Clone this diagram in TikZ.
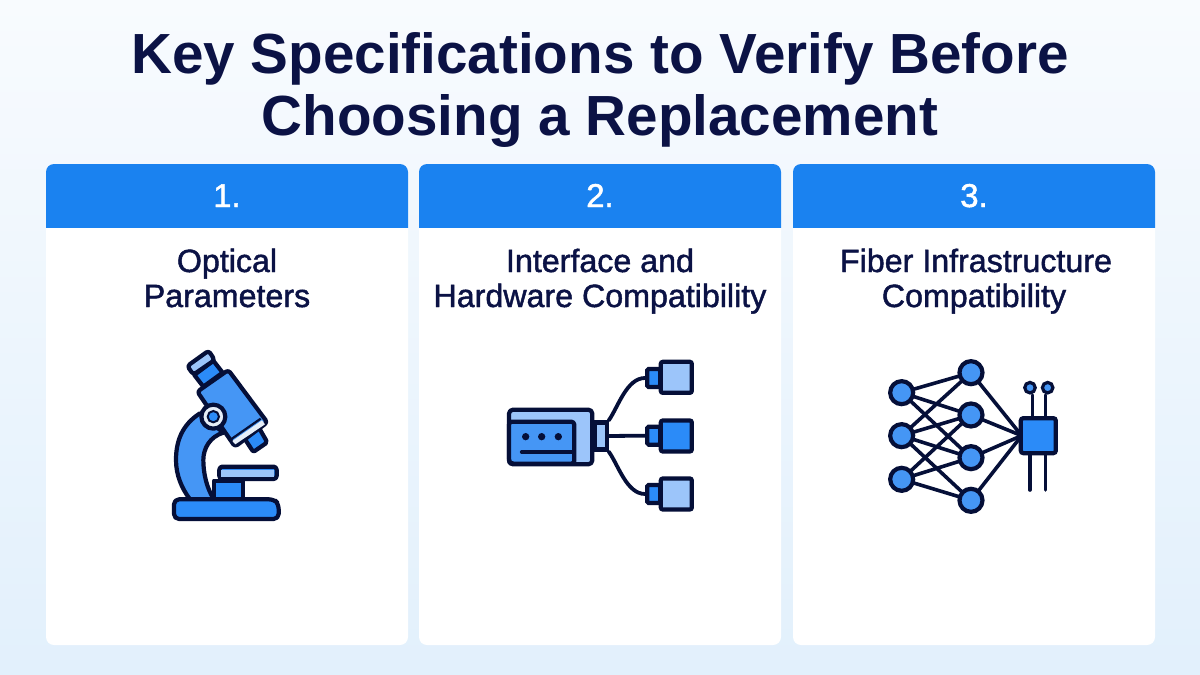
\documentclass[tikz,border=0pt]{standalone}
\usepackage{fontspec}
\setmainfont{Liberation Sans}
\newfontfamily\medfont[FakeBold=1.4]{Liberation Sans}
\definecolor{ink}{HTML}{0B1245}
\definecolor{iconink}{HTML}{050F38}
\definecolor{headblue}{HTML}{1A82F0}
\definecolor{mainblue}{HTML}{4596F5}
\definecolor{deepblue}{HTML}{2B8BF8}
\definecolor{lightblue}{HTML}{9CC5FA}
\definecolor{paleband}{HTML}{E6EEF8}
\definecolor{bgtop}{HTML}{F8FBFE}
\definecolor{bgbot}{HTML}{E2F0FC}
\tikzset{
 titletext/.style={anchor=base,text=ink,inner sep=0pt,font=\fontsize{56.6}{60}\selectfont\bfseries},
 cardtext/.style={anchor=base,text=ink,inner sep=0pt,font=\fontsize{32.2}{36}\selectfont\medfont},
 numtext/.style={anchor=base,text=white,inner sep=0pt,font=\fontsize{33}{36}\selectfont\medfont},
 cardbody/.style={fill=white,rounded corners=8pt},
 cardhead/.style={fill=headblue},
 iconline/.style={draw=iconink,line width=4.2pt,line join=round,line cap=round},
 thinline/.style={draw=iconink,line width=3.6pt,line join=round,line cap=round},
 netnode/.style={circle,draw=iconink,line width=4.2pt,fill=mainblue,minimum size=23pt,inner sep=0pt},
 pinnode/.style={circle,draw=iconink,line width=3.2pt,fill=mainblue,minimum size=10.5pt,inner sep=0pt},
 chipnode/.style={draw=iconink,line width=4.2pt,fill=deepblue,rounded corners=2.5pt,minimum size=35pt,inner sep=0pt},
 bigplug/.style={draw=iconink,line width=4.2pt,rounded corners=2pt,minimum width=31pt,minimum height=31pt,inner sep=0pt},
 smallplug/.style={draw=iconink,line width=4.2pt,fill=deepblue,rounded corners=1.5pt,minimum width=13pt,minimum height=18pt,inner sep=0pt},
 portnode/.style={draw=iconink,line width=4.2pt,fill=lightblue,minimum width=12pt,minimum height=27pt,inner sep=0pt},
 cable/.style={draw=iconink,line width=3.8pt,line cap=round},
}
\newcommand{\cardat}[1]{%
 \fill[cardbody] (#1,164) rectangle (#1+362,645);
 \begin{scope}
  \clip (#1,164) rectangle (#1+362,227);
  \fill[cardhead,rounded corners=8pt] (#1,164) rectangle (#1+362,260);
 \end{scope}
}
\begin{document}
\begin{tikzpicture}[x=1pt,y=-1pt]
\useasboundingbox (0,0) rectangle (1200,675);
\shade[top color=bgtop,bottom color=bgbot] (0,0) rectangle (1200,675);
\cardat{46}\cardat{419}\cardat{793}
\node[titletext] (t1) at (600,73) {Key Specifications to Verify Before};
\node[titletext] (t2) at (600,135) {Choosing a Replacement};
\node[numtext] (n1) at (227,207) {1.};
\node[numtext] (n2) at (600,207) {2.};
\node[numtext] (n3) at (974,207) {3.};
\node[cardtext] (c1a) at (227,272) {Optical};
\node[cardtext] (c1b) at (227,307) {Parameters};
\node[cardtext] (c2a) at (600,272) {Interface and};
\node[cardtext] (c2b) at (600,307) {Hardware Compatibility};
\node[cardtext] (c3a) at (976,272) {Fiber Infrastructure};
\node[cardtext] (c3b) at (974,307) {Compatibility};
% microscope
\begin{scope}[shift={(150,330)},x=0.3333pt,y=-0.3333pt]
 \draw[iconline,fill=mainblue] (150,250) .. controls (95,285) and (78,335) .. (78,390) .. controls (78,435) and (95,475) .. (120,508) -- (192,508) .. controls (170,475) and (160,430) .. (160,390) .. controls (160,355) and (180,320) .. (220,308) -- cycle;
 \draw[iconline,fill=deepblue] (192,452) rectangle (278,508);
 \draw[iconline,fill=deepblue,rounded corners=3pt] (208,410) rectangle (380,447);
 \fill[lightblue] (214,421) rectangle (372,440);
 \draw[iconline,fill=deepblue,rounded corners=5pt] (72,567) -- (72,508) -- (372,508) -- (386,522) -- (386,567) -- cycle;
 \draw[iconline,fill=deepblue,rounded corners=2pt] (280,320) -- (325,290) -- (352,337) -- (310,366) -- cycle;
 \draw[iconline,fill=deepblue] (133,135) -- (190,92) -- (218,128) -- (160,170) -- cycle;
 \draw[iconline,fill=lightblue,rounded corners=3pt] (112,108) -- (176,62) -- (194,90) -- (130,134) -- cycle;
 \draw[iconline,fill=mainblue,rounded corners=3pt] (142,185) -- (235,120) -- (352,277) -- (255,350) -- cycle;
 \fill[paleband] (247,333) -- (336,271) -- (345,283) -- (256,343) -- cycle;
 \draw[line width=2.2pt,draw=iconink] (243,328) -- (332,266);
 \draw[iconline,fill=paleband] (190,260) circle[radius=36];
 \draw[line width=2pt,draw=iconink,fill=deepblue] (190,260) circle[radius=17];
\end{scope}
% interface icon
\begin{scope}[shift={(495,345)},x=0.3333pt,y=-0.3333pt]
 \draw[iconline,fill=lightblue,rounded corners=4pt] (42,194) rectangle (292,358);
 \draw[iconline,fill=mainblue,rounded corners=3pt] (42,230) -- (238,230) -- (238,356) -- (48,356) -- (42,350) -- cycle;
 \fill[iconink] (92,275) circle[radius=11] (140,275) circle[radius=11] (190,275) circle[radius=11];
 \draw[thinline] (80,321) -- (236,321);
 \node[portnode] (port) at (317,273) {};
 \node[smallplug] (s1) at (476,99) {};
 \node[smallplug] (s2) at (476,272) {};
 \node[smallplug] (s3) at (476,447) {};
 \node[bigplug,fill=lightblue] (b1) at (544,97) {};
 \node[bigplug,fill=deepblue] (b2) at (544,273) {};
 \node[bigplug,fill=lightblue] (b3) at (544,447) {};
 \draw[cable] (port.north east) .. controls (370,185) and (395,99) .. (s1.west);
 \draw[cable] (port.east) -- (s2.west);
 \draw[cable] (port.south east) .. controls (370,360) and (395,447) .. (s3.west);
\end{scope}
% network icon
\begin{scope}[shift={(875,345)},x=0.3333pt,y=-0.3333pt]
 \coordinate (l1) at (80,143);
 \coordinate (l2) at (80,272);
 \coordinate (l3) at (80,403);
 \coordinate (m1) at (288,83);
 \coordinate (m2) at (288,210);
 \coordinate (m3) at (288,338);
 \coordinate (m4) at (288,466);
 \coordinate (chipw) at (440,272);
 \foreach \a/\b in {l1/m1,l1/m2,l1/m3,l2/m1,l2/m2,l2/m3,l2/m4,l3/m2,l3/m3,l3/m4}
   \draw[thinline,line cap=butt] (\a) -- (\b);
 \foreach \a in {m1,m2,m3,m4}
   \draw[thinline,line cap=butt] (\a) -- (chipw);
 \node[pinnode] (p1) at (465,128) {};
 \node[pinnode] (p2) at (518,128) {};
 \coordinate (f1) at (465,435);
 \coordinate (f2) at (512,435);
 \coordinate (g1) at (472,272);
 \coordinate (g2) at (512,272);
 \draw[thinline] (g1) -- (472,150);
 \draw[thinline] (g2) -- (512,150);
 \draw[thinline] (465,272) -- (f1);
 \draw[thinline] (512,272) -- (f2);
 \foreach \n/\x/\y in {nl1/80/143,nl2/80/272,nl3/80/403,nm1/288/83,nm2/288/210,nm3/288/338,nm4/288/466}
   \node[netnode] (\n) at (\x,\y) {};
 \node[chipnode] (chip) at (490,272) {};
\end{scope}
\end{tikzpicture}
\end{document}
